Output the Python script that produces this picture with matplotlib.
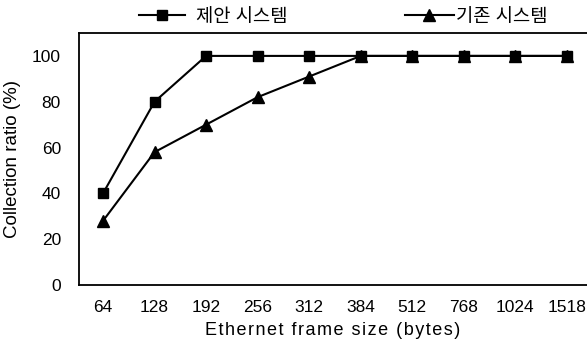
import matplotlib.pyplot as plt

plt.rcParams["font.family"] = ["Liberation Sans", "Noto Sans CJK KR", "DejaVu Sans"]

frame_sizes = ["64", "128", "192", "256", "312", "384", "512", "768", "1024", "1518"]
proposed = [40, 80, 100, 100, 100, 100, 100, 100, 100, 100]
existing = [28, 58, 70, 82, 91, 100, 100, 100, 100, 100]
series_names = ["제안 시스템", "기존 시스템"]
x_title = "Ethernet frame size (bytes)"
y_title = "Collection ratio (%)"

fig = plt.figure(figsize=(5.87, 3.53), dpi=100)
ax = fig.add_axes([79 / 587, 1 - 285 / 353, 1 - 79 / 587, (285 - 33) / 353])

x = list(range(len(frame_sizes)))
l1, = ax.plot(x, proposed, color="black", lw=1.5, marker="s", ms=7.5, mew=1)
l2, = ax.plot(x, existing, color="black", lw=1.5, marker="^", ms=8, mew=1)

ax.set_xlim(-0.466, 9.39)
ax.set_ylim(0, 110)
ax.set_yticks([0, 20, 40, 60, 80, 100])
ax.set_xticks(x)
ax.set_xticklabels(frame_sizes)
ax.tick_params(length=0, labelsize=12.5, pad=11)
ax.tick_params(axis="y", pad=13)
ax.spines["right"].set_visible(False)
for s in ["left", "top", "bottom"]:
    ax.spines[s].set_linewidth(1.3)

# slight letter spacing like the original scan
ax.set_ylabel(y_title, fontsize=13.5, labelpad=8)
ax.set_xlabel("\u200a".join(x_title), fontsize=13, labelpad=5)

fig.legend([l1], [series_names[0]], loc="center left", bbox_to_anchor=(122 / 587, 1 - 17 / 353),
           frameon=False, fontsize=13.5, handlelength=2.45, handletextpad=0.6)
fig.legend([l2], [series_names[1]], loc="center left", bbox_to_anchor=(388 / 587, 1 - 17 / 353),
           frameon=False, fontsize=13.5, handlelength=2.6, handletextpad=0.1)

fig.savefig("out.png", dpi=100)
